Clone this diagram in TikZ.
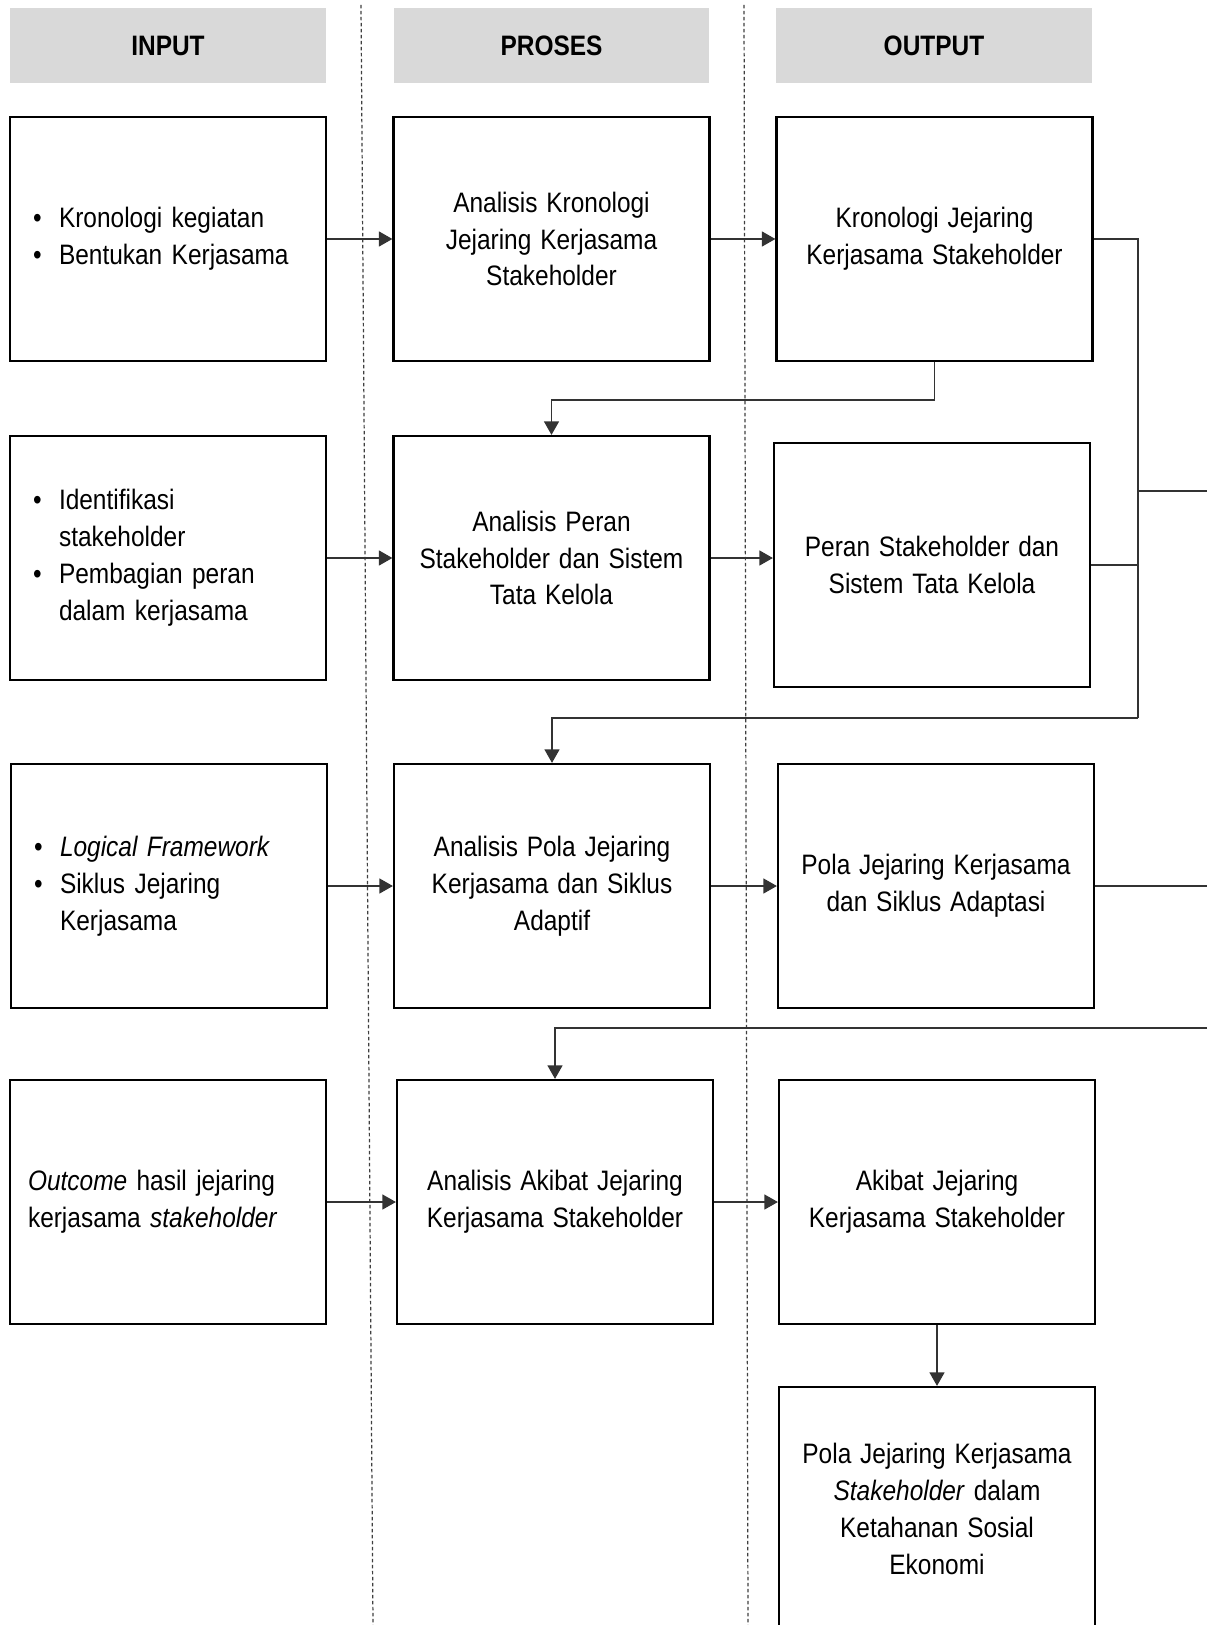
\documentclass[tikz,border=0pt]{standalone}
\usepackage{fontspec}
\setmainfont{Liberation Sans}[FakeStretch=0.87,WordSpace=1.3]
\usepackage{tikz}
\usetikzlibrary{arrows.meta,positioning,calc}
\newcommand{\bul}{\makebox[0.52cm][l]{\textbullet}}
\newcommand{\ind}{\hspace*{0.52cm}}

\begin{document}
\begin{tikzpicture}[x=0.02cm, y=-0.02cm, >={Triangle[length=0.27cm,width=0.3cm]},
    every node/.style={font=\fontsize{16pt}{21pt}\selectfont},
    hdr/.style={fill=black!15, minimum width=6.32cm, minimum height=1.52cm, font=\fontsize{16pt}{21pt}\selectfont\bfseries},
    cell/.style={draw, line width=1.3pt, minimum width=6.32cm, minimum height=4.88cm, align=center, inner sep=0pt},
    incell/.style={cell, align=left, text width=5.4cm},
    link/.style={draw=black!80, line width=0.75pt},
    flow/.style={link, ->},
    lane/.style={draw=black!75, line width=0.7pt, dash pattern=on 0.07cm off 0.05cm}]
    \useasboundingbox (0,0) rectangle (1207,1625);
    \clip (0,0) rectangle (1207,1625);

    % column separators
    \coordinate (laneAtop) at (361,5);
    \coordinate (laneAbot) at (373,1625);
    \coordinate (laneBtop) at (744,5);
    \coordinate (laneBbot) at (748,1625);
    \draw[lane] (laneAtop) -- (laneAbot);
    \draw[lane] (laneBtop) -- (laneBbot);

    % column headers
    \node[hdr] (hIn)  at (168,45.5)   {INPUT};
    \node[hdr] (hPro) at (551.5,45.5) {PROSES};
    \node[hdr] (hOut) at (934,45.5)   {OUTPUT};

    % row 1
    \node[incell] (in1) at (168,239) {\bul Kronologi kegiatan\\\bul Bentukan Kerjasama};
    \node[cell] (pro1) at (551.5,239) {Analisis Kronologi\\Jejaring Kerjasama\\Stakeholder};
    \node[cell] (out1) at (934.5,239) {Kronologi Jejaring\\Kerjasama Stakeholder};

    % row 2
    \node[incell] (in2) at (168,558) {\bul Identifikasi\\\ind stakeholder\\\bul Pembagian peran\\\ind dalam kerjasama};
    \node[cell] (pro2) at (551.5,558) {Analisis Peran\\Stakeholder dan Sistem\\Tata Kelola};
    \node[cell] (out2) at (932,565) {Peran Stakeholder dan\\Sistem Tata Kelola};

    % row 3
    \node[incell] (in3) at (169,886) {\bul \textit{Logical Framework}\\\bul Siklus Jejaring\\\ind Kerjasama};
    \node[cell] (pro3) at (552,886) {Analisis Pola Jejaring\\Kerjasama dan Siklus\\Adaptif};
    \node[cell] (out3) at (936,886) {Pola Jejaring Kerjasama\\dan Siklus Adaptasi};

    % row 4
    \node[incell, text width=5.6cm] (in4) at (168,1202) {\textit{Outcome} hasil jejaring\\kerjasama \textit{stakeholder}};
    \node[cell] (pro4) at (555,1202) {Analisis Akibat Jejaring\\Kerjasama Stakeholder};
    \node[cell] (out4) at (937,1202) {Akibat Jejaring\\Kerjasama Stakeholder};

    % final output
    \node[cell] (out5) at (937,1509) {Pola Jejaring Kerjasama\\\textit{Stakeholder} dalam\\Ketahanan Sosial\\Ekonomi};

    % input -> proses -> output
    \draw[flow] (in1) -- (pro1);
    \draw[flow] (pro1) -- (out1);
    \draw[flow] (in2) -- (pro2);
    \draw[flow] (pro2.east) -- (pro2.east -| out2.west);
    \draw[flow] (in3) -- (pro3);
    \draw[flow] (pro3) -- (out3);
    \draw[flow] (in4) -- (pro4);
    \draw[flow] (pro4) -- (out4);
    \draw[flow] (out4) -- (out5);

    % feedback lines on the right
    \draw[flow] (out1.south) -- ++(0,38) -| (pro2.north);
    \coordinate (busT) at (1138,239);
    \coordinate (busB) at (1138,718);
    \draw[link] (out1.east) -- (busT) -- (busB);
    \draw[flow] (busB) -| (pro3.north);
    \draw[link] (out2.east) -- (out2.east -| busT);
    \coordinate (exitA) at (1207,491);
    \draw[link] (exitA -| busT) -- (exitA);
    \coordinate (exitB) at (1207,886);
    \draw[link] (out3.east) -- (exitB);
    \coordinate (entryC) at (1207,1028);
    \draw[flow] (entryC) -| (pro4.north);
\end{tikzpicture}
\end{document}
